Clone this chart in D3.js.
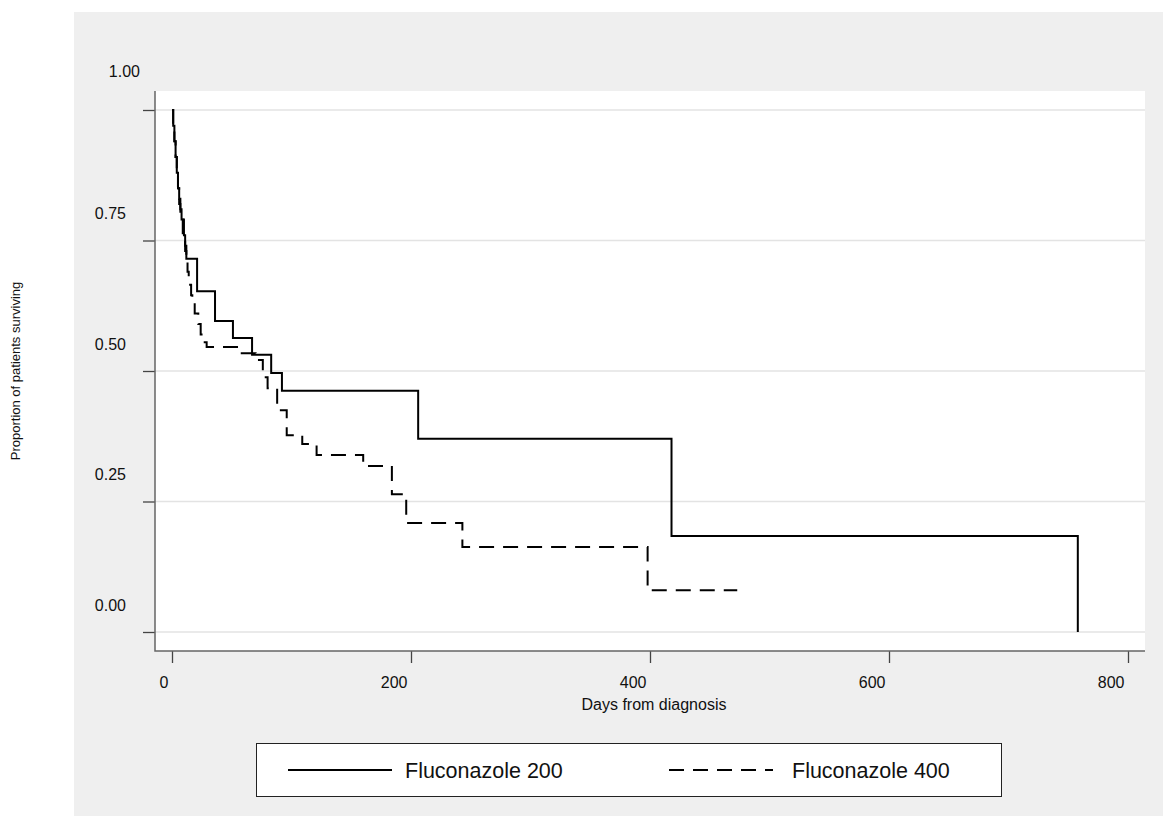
<!DOCTYPE html>
<html>
<head>
<meta charset="utf-8">
<script src="https://cdn.jsdelivr.net/npm/d3@7"></script>
<style>
    body { margin: 0; background: #fff; }
    svg { display: block; font-family: "Liberation Sans", Arial, sans-serif; }
</style>
</head>
<body>
<svg id="chart"></svg>
<script>
// survival steps (day, proportion surviving)
const days200 = [0, 1, 2, 3, 4, 5, 6, 7, 8, 10, 11, 12, 21, 36, 51, 67, 83, 92, 206, 418, 758];
const surv200 = [1, .97, .94, .91, .88, .85, .83, .81, .79, .76, .74, .715, .653, .596, .563, .531, .496, .462, .370, .184, 0];

const days400 = [0, 1, 2, 3, 4, 5, 6, 7, 9, 11, 12, 13, 14, 16, 17, 19, 22, 24, 26, 29, 57, 70, 76, 80, 88, 96, 109, 121, 160, 184, 196, 243, 398, 473];
const surv400 = [1, .97, .94, .91, .88, .85, .82, .79, .76, .73, .71, .69, .665, .645, .63, .61, .59, .57, .555, .546, .534, .521, .488, .467, .425, .377, .360, .339, .318, .264, .209, .163, .080, .080];

const groups = ["Fluconazole 200", "Fluconazole 400"];
const xTicks = [0, 200, 400, 600, 800];
const yTicks = [0, 0.25, 0.5, 0.75, 1];

const FONT = "'Liberation Sans', Arial, sans-serif";

class KMPlot {
    box = { left: 155, top: 91, right: 1145, bottom: 651 }

    constructor(svg, width = 1163, height = 816) {
        this.svg = d3.select(svg);
        this.width = width;
        this.height = height;
    }

    initialize() {
        const b = this.box;
        this.svg.attr("width", this.width).attr("height", this.height);

        this.svg.append("rect")
            .attr("x", 74).attr("y", 12)
            .attr("width", this.width - 74).attr("height", this.height - 12)
            .attr("fill", "#efefef");

        this.svg.append("rect")
            .attr("x", b.left).attr("y", b.top)
            .attr("width", b.right - b.left).attr("height", b.bottom - b.top)
            .attr("fill", "#fff");

        this.xScale = d3.scaleLinear().domain([0, 800]).range([b.left + 17, b.right - 17]);
        this.yScale = d3.scaleLinear().domain([0, 1]).range([b.bottom - 19, b.top + 19]);

        this.grid = this.svg.append("g");
        this.container = this.svg.append("g");
        this.xAxis = this.svg.append("g");
        this.yAxis = this.svg.append("g");
    }

    update() {
        const b = this.box;
        const x = this.xScale, y = this.yScale;

        this.grid.selectAll("line")
            .data(yTicks)
            .join("line")
            .attr("x1", b.left).attr("x2", b.right)
            .attr("y1", d => y(d)).attr("y2", d => y(d))
            .attr("stroke", "#e3e3e3")
            .attr("stroke-width", 1.5);

        const series = [
            { name: groups[0], pts: days200.map((d, i) => [d, surv200[i]]), dash: null },
            { name: groups[1], pts: days400.map((d, i) => [d, surv400[i]]), dash: "15,9" }
        ];

        const line = d3.line()
            .x(d => x(d[0]))
            .y(d => y(d[1]))
            .curve(d3.curveStepAfter);

        this.container.selectAll("path")
            .data(series)
            .join("path")
            .attr("d", d => line(d.pts))
            .attr("fill", "none")
            .attr("stroke", "#000")
            .attr("stroke-width", 2)
            .attr("stroke-dasharray", d => d.dash);

        // axes
        this.xAxis
            .attr("transform", `translate(0, ${b.bottom})`)
            .call(d3.axisBottom(x).tickValues(xTicks).tickSize(12).tickPadding(14));
        this.xAxis.select(".domain").remove();
        this.xAxis.selectAll(".tick line").attr("stroke", "#444").attr("stroke-width", 1.3);
        this.xAxis.selectAll(".tick text")
            .attr("text-anchor", "end")
            .attr("dx", -4)
            .style("font-family", FONT)
            .style("font-size", "16px")
            .style("fill", "#111");

        this.yAxis
            .attr("transform", `translate(${b.left}, 0)`)
            .call(d3.axisLeft(y).tickValues(yTicks).tickFormat(d3.format(".2f")).tickSize(12).tickPadding(17));
        this.yAxis.select(".domain").remove();
        this.yAxis.selectAll(".tick line").attr("stroke", "#444").attr("stroke-width", 1.3);
        this.yAxis.selectAll(".tick text")
            .attr("y", -27)
            .style("font-family", FONT)
            .style("font-size", "16px")
            .style("fill", "#111");
        this.yAxis.selectAll(".tick text").filter(d => d === 1)
            .attr("x", -15)
            .attr("y", -39);

        // frame lines (left + bottom)
        this.svg.append("path")
            .attr("d", `M${b.left},${b.top}V${b.bottom}H${b.right}`)
            .attr("fill", "none")
            .attr("stroke", "#666")
            .attr("stroke-width", 1.5);

        this.svg.append("text")
            .attr("x", (b.left + b.right) / 2 + 4)
            .attr("y", 710)
            .attr("text-anchor", "middle")
            .style("font-size", "16px")
            .style("fill", "#111")
            .text("Days from diagnosis");

        this.svg.append("text")
            .attr("transform", `translate(20, ${(b.top + b.bottom) / 2}) rotate(-90)`)
            .attr("text-anchor", "middle")
            .style("font-size", "13px")
            .style("fill", "#111")
            .text("Proportion of patients surviving");

        // legend
        const legend = this.svg.append("g");
        legend.append("rect")
            .attr("x", 256.5).attr("y", 743.5)
            .attr("width", 745).attr("height", 53)
            .attr("fill", "#fff")
            .attr("stroke", "#222")
            .attr("stroke-width", 1);

        const items = legend.selectAll("g.item")
            .data(series)
            .join("g")
            .attr("class", "item")
            .attr("transform", (d, i) => `translate(${i === 0 ? 288 : 669}, 770)`);

        items.append("line")
            .attr("x1", 0).attr("x2", 104)
            .attr("stroke", "#000")
            .attr("stroke-width", 1.8)
            .attr("stroke-dasharray", d => d.dash);

        items.append("text")
            .attr("x", d => d.dash ? 123 : 117)
            .attr("dy", "0.35em")
            .style("font-size", "21.5px")
            .style("fill", "#111")
            .text(d => d.name);
    }
}

const plot = new KMPlot(document.getElementById("chart"));
plot.initialize();
plot.update();
</script>
</body>
</html>
